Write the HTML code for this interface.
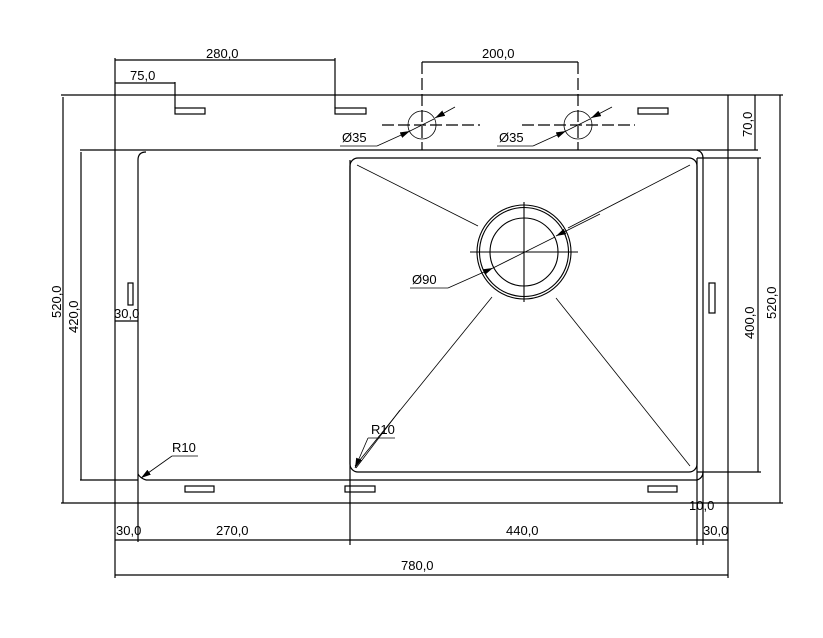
<!DOCTYPE html>
<html><head><style>body{margin:0;background:#fff}svg{display:block}text{font-family:"Liberation Sans",sans-serif;font-size:13px;fill:#000}</style></head><body>
<svg width="823" height="638" viewBox="0 0 823 638" xmlns="http://www.w3.org/2000/svg">
<defs><marker id="a" viewBox="0 0 10 6" refX="10" refY="3" markerWidth="10" markerHeight="6" orient="auto" markerUnits="userSpaceOnUse"><path d="M0,0L10,3L0,6z" fill="#000"/></marker></defs>
<g stroke="#000" stroke-width="1.2" fill="none">
<line x1="61" y1="95" x2="783" y2="95"/>
<line x1="61" y1="503" x2="783" y2="503"/>
<line x1="63" y1="97" x2="63" y2="503"/>
<line x1="80" y1="150" x2="758" y2="150"/>
<line x1="81" y1="152" x2="81" y2="480"/>
<line x1="80" y1="480" x2="138" y2="480"/>
<line x1="115" y1="58" x2="115" y2="578"/>
<path d="M138,160 Q138,152 146,152"/>
<line x1="138" y1="160" x2="138" y2="542"/>
<path d="M146,480 Q140,478 138,474"/>
<line x1="146" y1="480" x2="697" y2="480"/>
<path d="M697,480 Q703,478 703,472"/>
<path d="M697,150 Q703,152 703,158"/>
<line x1="703" y1="158" x2="703" y2="545"/>
<line x1="697" y1="158" x2="697" y2="545"/>
<line x1="728" y1="95" x2="728" y2="578"/>
<line x1="758" y1="158" x2="758" y2="472"/>
<line x1="697" y1="158" x2="761" y2="158"/>
<line x1="697" y1="472" x2="761" y2="472"/>
<line x1="780" y1="95" x2="780" y2="503"/>
<line x1="755" y1="95" x2="755" y2="150"/>
<rect x="350" y="158" width="347" height="314" rx="8"/>
<line x1="350" y1="160" x2="350" y2="545"/>
</g>
<g stroke="#000" stroke-width="0.8" fill="none">
<line x1="357" y1="165" x2="478" y2="226"/>
<line x1="690" y1="165" x2="568" y2="228"/>
<line x1="355" y1="466" x2="492" y2="297"/>
<line x1="690" y1="466" x2="556" y2="298"/>
</g>
<g stroke="#000" stroke-width="1.1" fill="none">
<circle cx="524" cy="252" r="47"/><circle cx="524" cy="252" r="44.5"/><circle cx="524" cy="252" r="34"/>
<line x1="524" y1="202" x2="524" y2="302"/><line x1="470" y1="252" x2="578" y2="252"/>
</g>
<g stroke="#000" stroke-width="0.8" fill="none">
<line x1="410" y1="288" x2="448" y2="288"/>
<line x1="448" y1="288" x2="493" y2="268" marker-end="url(#a)"/>
<line x1="493" y1="268" x2="555" y2="237"/>
<line x1="600" y1="214" x2="556" y2="236" marker-end="url(#a)"/>
<circle cx="422" cy="125" r="14"/><circle cx="578" cy="125" r="14"/>
<line x1="340" y1="146" x2="377" y2="146"/>
<line x1="377" y1="146" x2="410" y2="131" marker-end="url(#a)"/>
<line x1="410" y1="131" x2="434" y2="119"/>
<line x1="455" y1="107" x2="435" y2="118" marker-end="url(#a)"/>
<line x1="497" y1="146" x2="533" y2="146"/>
<line x1="533" y1="146" x2="566" y2="131" marker-end="url(#a)"/>
<line x1="566" y1="131" x2="590" y2="119"/>
<line x1="612" y1="107" x2="591" y2="118" marker-end="url(#a)"/>
<line x1="172" y1="456" x2="198" y2="456"/>
<line x1="172" y1="456" x2="141" y2="478" marker-end="url(#a)"/>
<line x1="368" y1="438" x2="395" y2="438"/>
<line x1="368" y1="438" x2="355" y2="468" marker-end="url(#a)"/>
<line x1="400" y1="410" x2="356" y2="468"/>
</g>
<g stroke="#000" stroke-width="1.2" fill="none" stroke-dasharray="12,4">
<line x1="382" y1="125" x2="480" y2="125"/>
<line x1="522" y1="125" x2="635" y2="125"/>
<line x1="422" y1="62" x2="422" y2="150"/>
<line x1="578" y1="62" x2="578" y2="150"/>
</g>
<g stroke="#000" stroke-width="1.2" fill="none">
<rect x="175" y="108" width="30" height="6"/><rect x="335" y="108" width="31" height="6"/><rect x="638" y="108" width="30" height="6"/>
<rect x="185" y="486" width="29" height="6"/><rect x="345" y="486" width="30" height="6"/><rect x="648" y="486" width="29" height="6"/>
<rect x="128" y="283" width="5" height="22"/><rect x="709" y="283" width="6" height="30"/>
<line x1="115" y1="60" x2="335" y2="60"/><line x1="335" y1="58" x2="335" y2="108"/>
<line x1="115" y1="83" x2="175" y2="83"/><line x1="175" y1="82" x2="175" y2="108"/>
<line x1="422" y1="62" x2="578" y2="62"/>
<line x1="115" y1="540" x2="728" y2="540"/>
<line x1="115" y1="575" x2="728" y2="575"/>
<line x1="115" y1="321" x2="138" y2="321"/>
</g>
<text x="206" y="58">280,0</text>
<text x="130" y="80">75,0</text>
<text x="482" y="58">200,0</text>
<text x="342" y="142">Ø35</text>
<text x="499" y="142">Ø35</text>
<text x="412" y="284">Ø90</text>
<text x="172" y="452">R10</text>
<text x="371" y="434">R10</text>
<text x="114" y="318">30,0</text>
<text x="116" y="535">30,0</text>
<text x="216" y="535">270,0</text>
<text x="506" y="535">440,0</text>
<text x="703" y="535">30,0</text>
<text x="689" y="510">10,0</text>
<text x="401" y="570">780,0</text>
<text transform="translate(61,318) rotate(-90)">520,0</text>
<text transform="translate(78,333) rotate(-90)">420,0</text>
<text transform="translate(754,339) rotate(-90)">400,0</text>
<text transform="translate(776,319) rotate(-90)">520,0</text>
<text transform="translate(752,137) rotate(-90)">70,0</text>
</svg>
</body></html>
